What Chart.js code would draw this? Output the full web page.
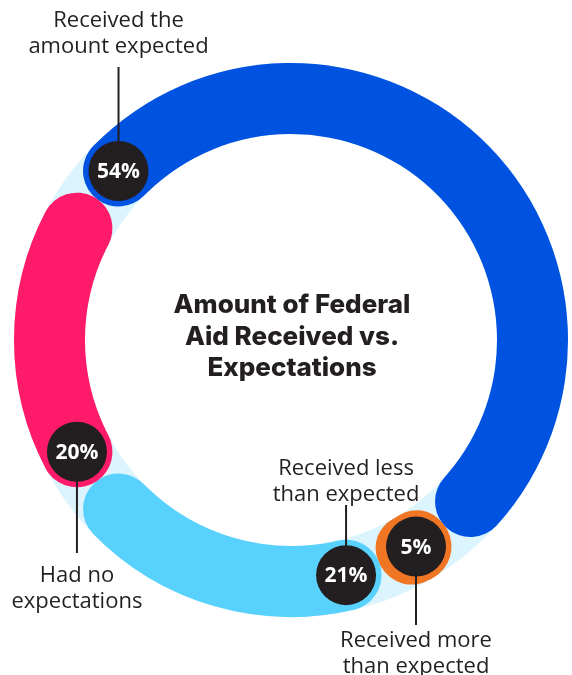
<!DOCTYPE html>
<html>
<head>
<meta charset="utf-8">
<script src="https://cdn.jsdelivr.net/npm/chart.js@4.4.0/dist/chart.umd.min.js"></script>
<style>
  html, body { margin: 0; padding: 0; background: #fff; }
  #wrap { width: 572px; height: 675px; position: relative; }
</style>
</head>
<body>
<div id="wrap"><canvas id="aidChart"></canvas></div>
<script>
// slices run clockwise starting with the big blue one
const categories = ["Received the amount expected", "Received more than expected", "Received less than expected", "Had no expectations"];
const shares = [54, 5, 21, 20];
const calloutText = [
  ["Received the", "amount expected"],
  ["Received more", "than expected"],
  ["Received less", "than expected"],
  ["Had no", "expectations"],
];
const sliceColors = ["#0052e0", "#f07623", "#59d1fd", "#ff1a6a"];
const titleLines = ["Amount of Federal", "Aid Received vs.", "Expectations"];

// callout stems end at stemY, first text baseline at textY
const calloutPlace = [
  { stemY: 67, textY: 27 },
  { stemY: 625, textY: 647 },
  { stemY: 505, textY: 475 },
  { stemY: 553, textY: 582 },
];

const INK = "#231f20";
const TRACK = "#dcf4fd";

const ringTrack = {
  id: "ringTrack",
  beforeDatasetsDraw(chart) {
    const arc = chart.getDatasetMeta(0).data[0];
    if (!arc) return;
    const { x, y, innerRadius, outerRadius } = arc.getProps(["x", "y", "innerRadius", "outerRadius"], true);
    const ctx = chart.ctx;
    ctx.save();
    ctx.beginPath();
    ctx.arc(x, y, outerRadius, 0, Math.PI * 2);
    ctx.arc(x, y, innerRadius, 0, Math.PI * 2, true);
    ctx.fillStyle = TRACK;
    ctx.fill();
    ctx.restore();
  },
};

const sliceBadges = {
  id: "sliceBadges",
  afterDatasetsDraw(chart) {
    const ctx = chart.ctx;
    const meta = chart.getDatasetMeta(0);
    meta.data.forEach((arc, i) => {
      const p = arc.getProps(["x", "y", "startAngle", "endAngle", "innerRadius", "outerRadius"], true);
      const midR = (p.innerRadius + p.outerRadius) / 2;
      const half = (p.outerRadius - p.innerRadius) / 2;
      // badge sits on the centre of the rounded start cap
      const a = Math.min(p.startAngle + half / midR, (p.startAngle + p.endAngle) / 2);
      const cx = p.x + Math.cos(a) * midR;
      const cy = p.y + Math.sin(a) * midR;
      const place = calloutPlace[i];

      ctx.save();
      ctx.strokeStyle = INK;
      ctx.lineWidth = 2;
      ctx.beginPath();
      ctx.moveTo(cx, cy);
      ctx.lineTo(cx, place.stemY);
      ctx.stroke();

      ctx.fillStyle = INK;
      ctx.beginPath();
      ctx.arc(cx, cy, 30, 0, Math.PI * 2);
      ctx.fill();

      ctx.fillStyle = "#fff";
      ctx.font = "bold 21px 'Open Sans'";
      ctx.textAlign = "center";
      ctx.textBaseline = "middle";
      ctx.fillText(shares[i] + "%", cx, cy + 1);

      ctx.fillStyle = INK;
      ctx.font = "22px 'Open Sans'";
      ctx.textBaseline = "alphabetic";
      calloutText[i].forEach((line, k) => {
        ctx.fillText(line, cx, place.textY + k * 26);
      });
      ctx.restore();
    });

    // title in the hole
    const first = meta.data[0];
    if (!first) return;
    const { x, y } = first.getProps(["x", "y"], true);
    ctx.save();
    ctx.fillStyle = INK;
    ctx.font = "800 26px Inter";
    ctx.textAlign = "center";
    ctx.textBaseline = "alphabetic";
    titleLines.forEach((line, k) => {
      ctx.fillText(line, x + 1, y - 27 + k * 31.5);
    });
    ctx.restore();
  },
};

new Chart(document.getElementById("aidChart"), {
  type: "doughnut",
  data: {
    labels: categories,
    datasets: [
      {
        data: shares,
        backgroundColor: sliceColors,
        borderWidth: 0,
        borderRadius: 36,
        spacing: 0,
      },
    ],
  },
  options: {
    responsive: true,
    maintainAspectRatio: false,
    animation: false,
    events: [],
    rotation: -54,
    cutout: 206,
    layout: { padding: { left: 14, right: 4, top: 63, bottom: 58 } },
    plugins: {
      legend: { display: false },
      tooltip: { enabled: false },
    },
  },
  plugins: [ringTrack, sliceBadges],
});
</script>
</body>
</html>
